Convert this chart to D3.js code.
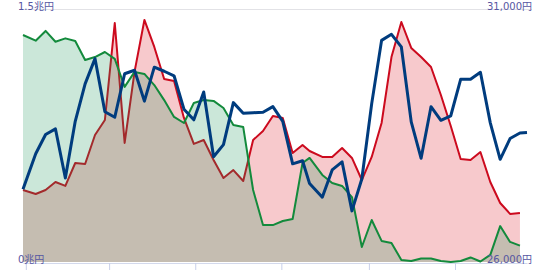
<!DOCTYPE html>
<html>
<head>
<meta charset="utf-8">
<script src="https://cdn.jsdelivr.net/npm/d3@7"></script>
<style>
  body { margin: 0; background: #fff; }
  svg { display: block; }
</style>
</head>
<body>
<div id="chart"></div>
<script>
// weekly points (last trading day of each week)
const weeks = [
  '2020-12-30', '2021-01-08', '2021-01-15', '2021-01-22', '2021-01-29',
  '2021-02-05', '2021-02-12', '2021-02-19', '2021-02-26',
  '2021-03-05', '2021-03-12', '2021-03-19', '2021-03-26',
  '2021-04-02', '2021-04-09', '2021-04-16', '2021-04-23', '2021-04-30',
  '2021-05-07', '2021-05-14', '2021-05-21', '2021-05-28',
  '2021-06-04', '2021-06-11', '2021-06-18', '2021-06-25',
  '2021-07-02', '2021-07-09', '2021-07-16', '2021-07-21', '2021-07-30',
  '2021-08-06', '2021-08-13', '2021-08-20', '2021-08-27',
  '2021-09-03', '2021-09-10', '2021-09-17', '2021-09-24',
  '2021-10-01', '2021-10-08', '2021-10-15', '2021-10-22', '2021-10-29',
  '2021-11-05', '2021-11-12', '2021-11-19', '2021-11-26',
  '2021-12-03', '2021-12-10', '2021-12-17'
];
// the price line has one more point
const priceDates = weeks.concat(['2021-12-22']);

// 兆円
const redValues = [
  0.427, 0.403, 0.427, 0.474, 0.451, 0.587, 0.581, 0.753, 0.842, 1.417,
  0.706, 1.127, 1.435, 1.275, 1.085, 1.073, 0.854, 0.700, 0.723, 0.605,
  0.498, 0.545, 0.480, 0.723, 0.777, 0.866, 0.854, 0.646, 0.694, 0.658,
  0.623, 0.623, 0.676, 0.617, 0.486, 0.623, 0.824, 1.215, 1.423, 1.269,
  1.215, 1.156, 0.990, 0.806, 0.611, 0.605, 0.652, 0.474, 0.350, 0.285,
  0.291
];
const greenValues = [
  1.346, 1.312, 1.370, 1.306, 1.326, 1.310, 1.198, 1.215, 1.245, 1.204,
  1.038, 1.127, 1.115, 1.049, 0.960, 0.860, 0.824, 0.943, 0.960, 0.955,
  0.913, 0.812, 0.800, 0.427, 0.219, 0.219, 0.243, 0.255, 0.587, 0.617,
  0.516, 0.468, 0.451, 0.385, 0.089, 0.249, 0.125, 0.113, 0.012, 0.006,
  0.021, 0.021, 0.006, 0.000, 0.006, 0.027, 0.003, 0.042, 0.213, 0.119,
  0.097
];
// 円
const priceValues = [
  27440, 28140, 28520, 28630, 27660, 28780, 29520, 30020, 28970, 28860,
  29720, 29790, 29180, 29850, 29770, 29680, 29020, 28810, 29360, 28080,
  28320, 29150, 28940, 28950, 28960, 29070, 28780, 27940, 28000, 27550,
  27280, 27820, 27980, 27010, 27640, 29130, 30380, 30500, 30250, 28770,
  28050, 29070, 28800, 28890, 29610, 29610, 29750, 28750, 28030, 28440,
  28550, 28560
];

const leftTicks = [0, 1.5];
const rightTicks = [26000, 31000];

const width = 550;
const height = 270;
const parse = d3.timeParse('%Y-%m-%d');

const svg = d3.select('#chart')
  .append('svg')
  .attr('width', width)
  .attr('height', height);

const x = d3.scaleTime()
  .domain([parse(priceDates[0]), parse(priceDates[priceDates.length - 1])])
  .range([23, 527]);
const yL = d3.scaleLinear().domain([0, 1.5]).range([262, 9]);
const yR = d3.scaleLinear().domain([26000, 31000]).range([262, 9]);

const red = weeks.map((d, i) => ({ date: parse(d), v: redValues[i] }));
const green = weeks.map((d, i) => ({ date: parse(d), v: greenValues[i] }));
const price = priceDates.map((d, i) => ({ date: parse(d), v: priceValues[i] }));

// top grid line
svg.append('line')
  .attr('x1', 19).attr('x2', 532)
  .attr('y1', yL(1.5) + 0.5).attr('y2', yL(1.5) + 0.5)
  .attr('stroke', '#e2e2e6')
  .attr('stroke-width', 1);

const area = d3.area()
  .x(d => x(d.date))
  .y0(yL(0))
  .y1(d => yL(d.v));
const lineL = d3.line()
  .x(d => x(d.date))
  .y(d => yL(d.v));
const lineR = d3.line()
  .x(d => x(d.date))
  .y(d => yR(d.v));

svg.append('path')
  .datum(red)
  .attr('d', area)
  .attr('fill', 'rgba(220,30,40,0.24)');
svg.append('path')
  .datum(red)
  .attr('d', lineL)
  .attr('fill', 'none')
  .attr('stroke', '#cc0a1e')
  .attr('stroke-width', 2)
  .attr('stroke-linejoin', 'round');

svg.append('path')
  .datum(green)
  .attr('d', area)
  .attr('fill', 'rgba(30,150,90,0.23)');
svg.append('path')
  .datum(green)
  .attr('d', lineL)
  .attr('fill', 'none')
  .attr('stroke', '#138a3c')
  .attr('stroke-width', 2)
  .attr('stroke-linejoin', 'round');

svg.append('path')
  .datum(price)
  .attr('d', lineR)
  .attr('fill', 'none')
  .attr('stroke', '#003c7e')
  .attr('stroke-width', 3)
  .attr('stroke-linejoin', 'round');

// bottom axis, ticks every two months, no labels
const axis = svg.append('g')
  .attr('transform', `translate(0,${yL(0) + 1})`)
  .call(d3.axisBottom(x)
    .ticks(d3.timeMonth.every(2))
    .tickSize(7)
    .tickSizeOuter(0)
    .tickFormat(''));
axis.select('.domain').attr('stroke', '#d3d9ec');
axis.selectAll('.tick line').attr('stroke', '#c9d0ea');

const labelFont = '"DejaVu Sans", "Noto Sans CJK JP", sans-serif';

svg.selectAll('text.left')
  .data(leftTicks)
  .join('text')
  .attr('class', 'left')
  .attr('x', 18)
  .attr('y', d => yL(d) + 0.5)
  .attr('font-family', labelFont)
  .attr('font-size', '10px')
  .attr('fill', '#5656a2')
  .text(d => d + '兆円');

svg.selectAll('text.right')
  .data(rightTicks)
  .join('text')
  .attr('class', 'right')
  .attr('x', 532)
  .attr('y', d => yR(d) + 0.5)
  .attr('text-anchor', 'end')
  .attr('font-family', labelFont)
  .attr('font-size', '10px')
  .attr('fill', '#5656a2')
  .text(d => d3.format(',')(d) + '円');
</script>
</body>
</html>
